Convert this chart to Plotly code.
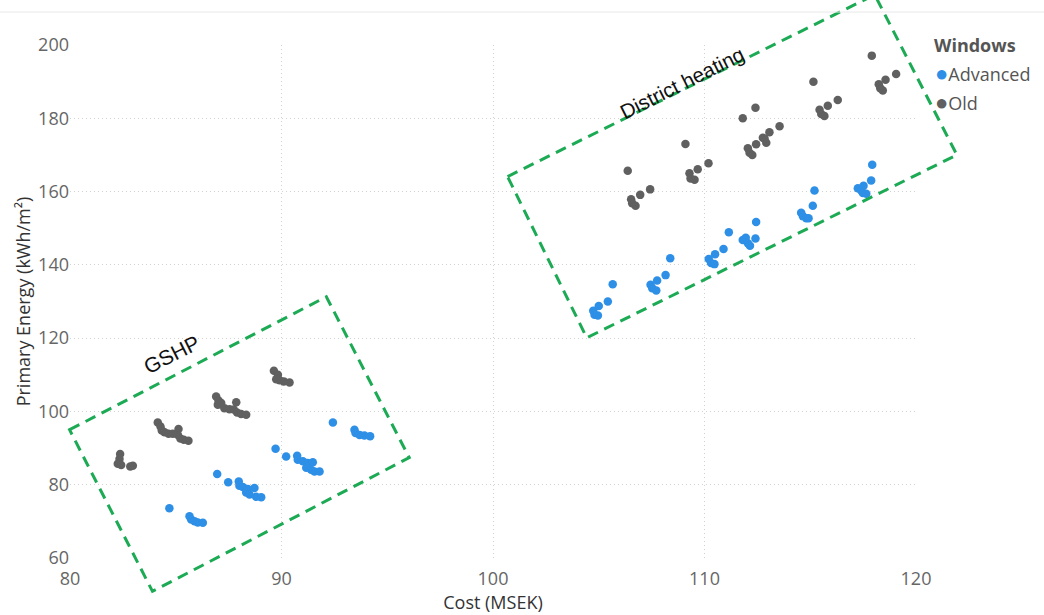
import plotly.graph_objects as go
import math

# ---------------- data ----------------
adv_cost = [84.70, 85.65, 85.73, 85.89, 86.04, 86.28,
            86.96, 87.48, 87.98, 88.01, 88.17, 88.41, 88.72, 88.33, 88.49, 88.80, 89.04,
            89.72, 90.22, 90.74, 90.77, 91.01, 91.24, 91.48, 91.17, 91.40, 91.56, 91.80,
            92.43, 93.45, 93.50, 93.69, 93.92, 94.19,
            104.74, 104.80, 104.96, 105.00, 105.43, 105.66,
            107.45, 107.53, 107.72, 107.76, 108.16, 108.38,
            110.20, 110.31, 110.47, 110.50, 110.90, 111.15,
            111.81, 111.95, 112.05, 112.15, 112.41, 112.44,
            114.57, 114.65, 114.81, 114.92, 115.12, 115.20,
            117.25, 117.41, 117.49, 117.65, 117.52, 117.88, 117.93]
adv_energy = [73.6, 71.4, 70.5, 70.0, 69.7, 69.6,
              82.9, 80.7, 80.9, 79.7, 79.4, 78.8, 79.1, 77.9, 77.3, 76.7, 76.6,
              89.8, 87.7, 87.9, 86.8, 86.4, 85.9, 86.1, 84.6, 84.1, 83.6, 83.6,
              97.0, 95.0, 94.1, 93.6, 93.4, 93.2,
              127.5, 126.4, 126.2, 128.8, 130.0, 134.7,
              134.6, 133.6, 133.0, 135.7, 137.2, 141.8,
              141.6, 140.5, 140.2, 142.9, 144.3, 148.9,
              146.8, 147.4, 145.9, 145.2, 147.2, 151.7,
              154.2, 153.3, 152.7, 152.7, 156.1, 160.3,
              160.9, 160.3, 159.6, 159.4, 161.6, 163.0, 167.3]

old_cost = [82.37, 82.34, 82.26, 82.42, 82.85, 82.97,
            84.15, 84.28, 84.34, 84.47, 84.66, 84.86, 85.13, 85.10, 85.22, 85.38, 85.60,
            86.91, 87.02, 87.15, 86.99, 87.30, 87.54, 87.86, 87.74, 87.90, 88.09, 88.33,
            89.64, 89.83, 89.75, 89.91, 90.11, 90.38,
            106.37, 106.53, 106.58, 106.74, 106.96, 107.43,
            109.10, 109.29, 109.34, 109.53, 109.68, 110.19,
            111.81, 112.41, 112.05, 112.13, 112.26, 112.44, 112.76, 112.92, 112.84, 113.07, 113.55,
            115.15, 115.44, 115.52, 115.67, 115.83, 116.30,
            117.91, 118.24, 118.31, 118.43, 118.56, 119.06]
old_energy = [88.4, 87.0, 85.7, 85.4, 85.0, 85.2,
              97.0, 95.9, 94.8, 94.3, 93.9, 93.9, 95.2, 93.6, 92.6, 92.3, 92.0,
              104.1, 103.0, 102.3, 101.8, 100.9, 100.6, 102.5, 100.5, 99.7, 99.3, 99.1,
              111.1, 110.0, 108.8, 108.5, 108.2, 107.9,
              165.7, 157.9, 156.8, 156.1, 159.1, 160.6,
              173.0, 165.0, 163.6, 163.2, 166.1, 167.7,
              180.0, 182.9, 171.8, 170.6, 170.0, 172.9, 174.7, 173.3, 174.4, 176.2, 177.8,
              190.0, 182.3, 181.2, 180.6, 183.4, 185.0,
              197.1, 189.3, 188.2, 187.6, 190.5, 192.1]

series_names = ["Advanced", "Old"]
legend_title = "Windows"
x_ticks = [80, 90, 100, 110, 120]
y_ticks = [60, 80, 100, 120, 140, 160, 180, 200]

# annotation boxes (corners in data units, may lie outside the axes)
gshp_box_x = [79.98, 92.12, 96.04, 83.90]
gshp_box_y = [95.0, 131.3, 87.4, 50.9]
dh_box_x = [100.69, 118.05, 121.93, 104.43]
dh_box_y = [164.1, 213.7, 170.0, 120.1]

X_RANGE = [80, 120]
Y_RANGE = [60, 200]

# ---------------- layout geometry ----------------
W, H = 1044, 615
ML, MR, MT, MB = 70, 128, 45, 57
PW, PH = W - ML - MR, H - MT - MB

def to_paper(xs, ys):
    px = [(v - X_RANGE[0]) / (X_RANGE[1] - X_RANGE[0]) for v in xs]
    py = [(v - Y_RANGE[0]) / (Y_RANGE[1] - Y_RANGE[0]) for v in ys]
    return px, py

def pix(x, y):
    return (x - ML) / PW, (H - MB - y) / PH

def box_path(xs, ys):
    px, py = to_paper(xs, ys)
    pts = " L ".join(f"{a:.4f},{b:.4f}" for a, b in zip(px, py))
    return "M " + pts + " Z"

FONT = "Open Sans, Segoe UI, sans-serif"
GREEN = "#1DAA55"
BLUE = "#2E8FE6"
GRAY = "#606060"

fig = go.Figure()
fig.add_trace(go.Scatter(x=adv_cost, y=adv_energy, mode="markers", name=series_names[0],
                         marker=dict(color=BLUE, size=8.5, line=dict(width=0))))
fig.add_trace(go.Scatter(x=old_cost, y=old_energy, mode="markers", name=series_names[1],
                         marker=dict(color=GRAY, size=8.5, line=dict(width=0))))

for bx, by in ((gshp_box_x, gshp_box_y), (dh_box_x, dh_box_y)):
    fig.add_shape(type="path", path=box_path(bx, by), xref="paper", yref="paper",
                  line=dict(color=GREEN, width=3, dash="11px,7px"), layer="above")

# faint top rule
t0 = pix(0, 12)
fig.add_shape(type="line", xref="paper", yref="paper", x0=pix(0, 0)[0], x1=pix(W, 0)[0],
              y0=t0[1], y1=t0[1], line=dict(color="#E8E8E8", width=1))

ang = -math.degrees(math.atan(0.5))
gx, gy = to_paper([84.8], [115.5])
fig.add_annotation(x=gx[0], y=gy[0], xref="paper", yref="paper", text="GSHP", showarrow=False,
                   xanchor="center", yanchor="middle", textangle=ang,
                   font=dict(family="Arial, Liberation Sans", size=21, color="#111"))
dx, dy = to_paper([108.95], [189.9])
fig.add_annotation(x=dx[0], y=dy[0], xref="paper", yref="paper", text="District heating",
                   showarrow=False, xanchor="center", yanchor="middle", textangle=ang,
                   font=dict(family="Arial, Liberation Sans", size=20.5, color="#111"))

# legend (drawn as text)
lx, ly = pix(932, 45)
fig.add_annotation(x=lx, y=ly, xref="paper", yref="paper", text=f"<b>{legend_title}</b>",
                   showarrow=False, xanchor="left", yanchor="middle",
                   font=dict(family=FONT, size=18, color="#555555"))
for name, col, ypix in ((series_names[0], BLUE, 72), (series_names[1], GRAY, 101)):
    ax_, ay_ = pix(933, ypix)
    fig.add_annotation(x=ax_, y=ay_, xref="paper", yref="paper",
                       text=f"<span style='color:{col};font-size:22px'>●</span>{name}",
                       showarrow=False, xanchor="left", yanchor="middle",
                       font=dict(family=FONT, size=18, color="#555555"))

grid = dict(showgrid=True, gridcolor="#D2D2D2", griddash="1px,3px", gridwidth=1, zeroline=False,
            showline=False, ticks="", automargin=False,
            tickfont=dict(family=FONT, size=18, color="#666666"))
fig.update_xaxes(range=X_RANGE, tickvals=x_ticks, ticklabelstandoff=8, **grid,
                 title=dict(text="Cost (MSEK)", font=dict(family=FONT, size=18, color="#333333"),
                            standoff=4))
fig.update_yaxes(range=Y_RANGE, tickvals=y_ticks, **grid,
                 title=dict(text="Primary Energy (kWh/m²)",
                            font=dict(family=FONT, size=18, color="#333333"), standoff=2))

fig.update_layout(
    width=W, height=H,
    margin=dict(l=ML, r=MR, t=MT, b=MB, autoexpand=False),
    plot_bgcolor="white", paper_bgcolor="white",
    font=dict(family=FONT),
    showlegend=False,
)

fig.write_html("out.html", config={"displayModeBar": False},
               post_script="document.body.style.margin='0px';")
